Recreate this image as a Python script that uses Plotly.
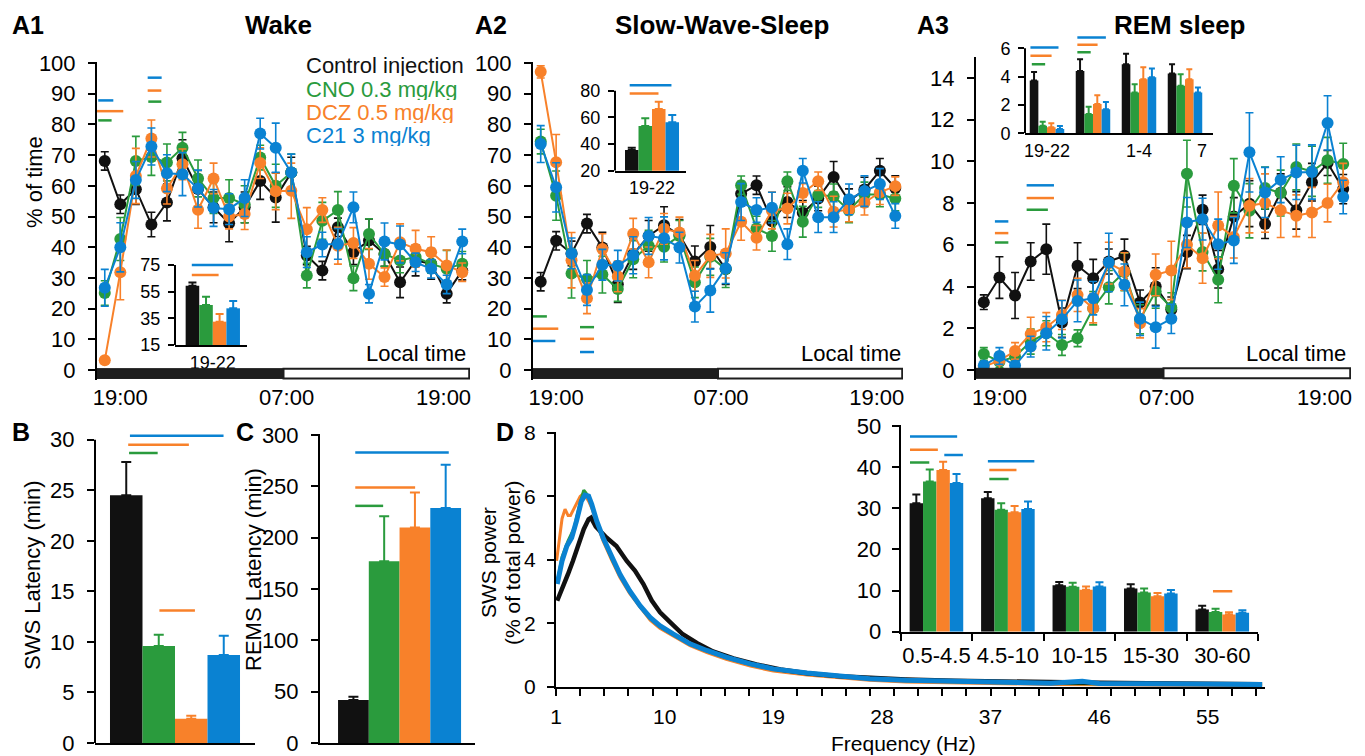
import plotly.graph_objects as go

W, H = 1365, 756
FONT = "Liberation Sans, Arial, Helvetica, sans-serif"
NARROW = "Liberation Sans Narrow, Arial Narrow, Liberation Sans, Arial, sans-serif"

# ---------------- data ----------------
SERIES = ["Control injection", "CNO 0.3 mg/kg", "DCZ 0.5 mg/kg", "C21 3 mg/kg"]
COLORS = ["#111111", "#2A9B3D", "#F8812A", "#0A82D2"]

HOURS = [0.5, 1.5, 2.5, 3.5, 4.5, 5.5, 6.5, 7.5, 8.5, 9.5, 10.5, 11.5,
         12.5, 13.5, 14.5, 15.5, 16.5, 17.5, 18.5, 19.5, 20.5, 21.5, 22.5, 23.5]
TIME_TICKS = [1.5, 12.2, 22.3]
TIME_LABELS = ["19:00", "07:00", "19:00"]
LIGHT_DARK = [(0, 12, "dark"), (12, 24, "light")]

wake_ctrl = [68.1, 54.0, 58.9, 47.4, 54.6, 69.0, 59.0, 53.0, 47.8, 53.0, 61.6, 56.2, 64.3, 37.3, 32.4, 46.5, 38.4, 42.2, 37.8, 28.6, 35.7, 34.6, 24.9, 32.4]
wake_cno = [25.1, 42.7, 68.1, 69.4, 67.6, 72.4, 62.4, 56.0, 56.0, 54.0, 69.2, 60.0, 64.3, 30.8, 48.6, 52.1, 29.9, 44.3, 37.8, 35.7, 36.8, 34.6, 33.0, 34.6]
wake_dcz = [3.2, 31.9, 63.2, 75.4, 59.1, 67.0, 52.2, 62.4, 50.0, 50.8, 67.4, 58.2, 58.4, 45.9, 52.1, 40.5, 41.4, 34.6, 30.3, 41.6, 39.5, 38.4, 34.1, 31.9]
wake_c21 = [26.8, 40.0, 61.9, 72.8, 64.1, 63.8, 59.1, 52.8, 52.4, 56.0, 77.0, 72.4, 64.3, 38.4, 40.9, 41.1, 53.0, 24.9, 41.9, 40.9, 35.1, 33.0, 27.9, 41.9]
wake_ctrl_err = [3, 3, 5, 4, 6, 6, 6, 5, 6, 5, 6, 8, 5, 3, 3, 3, 4, 7, 4, 5, 5, 5, 3, 3]
wake_cno_err = [4, 7, 8, 6, 6, 5, 6, 5, 6, 6, 4, 7, 6, 4, 6, 6, 4, 5, 4, 4, 3, 3, 6, 4]
wake_dcz_err = [1, 9, 9, 6, 5, 5, 6, 5, 4, 5, 5, 6, 9, 7, 4, 6, 5, 5, 3, 6, 6, 5, 5, 3]
wake_c21_err = [6, 8, 6, 6, 6, 7, 6, 6, 5, 6, 5, 8, 6, 5, 4, 5, 5, 3, 6, 6, 3, 3, 3, 4]

sws_ctrl = [28.8, 42.1, 38.0, 47.7, 39.9, 28.0, 37.8, 43.7, 47.2, 44.0, 35.4, 40.1, 32.9, 57.4, 60.2, 48.5, 54.7, 51.2, 55.9, 62.9, 55.0, 58.8, 64.9, 59.3]
sws_cno = [74.4, 56.8, 31.5, 29.7, 31.1, 26.4, 36.1, 40.5, 40.2, 43.7, 28.6, 36.9, 32.9, 60.2, 46.1, 43.7, 61.5, 48.3, 57.0, 56.6, 52.0, 57.2, 57.2, 55.9]
sws_dcz = [97.1, 67.7, 35.8, 23.4, 39.4, 30.5, 44.4, 35.1, 46.0, 44.8, 30.7, 37.2, 38.0, 48.3, 43.1, 52.0, 52.6, 57.7, 61.5, 51.6, 52.3, 54.5, 57.9, 59.9]
sws_c21 = [73.6, 59.5, 38.0, 26.1, 34.3, 34.0, 37.4, 43.7, 42.9, 39.9, 20.7, 25.9, 33.2, 54.7, 52.1, 52.9, 41.0, 64.9, 49.8, 49.8, 55.6, 58.3, 60.6, 50.2]
sws_ctrl_err = [3, 3, 4, 3, 5, 6, 5, 5, 6, 5, 5, 7, 5, 4, 3, 4, 5, 4, 4, 5, 4, 4, 4, 4]
sws_cno_err = [4, 8, 8, 6, 6, 4, 6, 5, 5, 5, 5, 6, 6, 3, 4, 5, 3, 5, 4, 4, 4, 4, 4, 4]
sws_dcz_err = [2, 9, 9, 5, 5, 5, 5, 5, 5, 5, 5, 7, 8, 6, 4, 6, 5, 3, 3, 5, 4, 4, 4, 3]
sws_c21_err = [6, 8, 5, 5, 5, 5, 6, 6, 7, 5, 5, 7, 5, 6, 4, 5, 5, 4, 5, 5, 5, 5, 5, 4]

rem_ctrl = [3.25, 4.43, 3.57, 5.2, 5.79, 2.27, 5.0, 4.4, 5.2, 5.47, 3.23, 4.0, 2.9, 5.65, 7.68, 4.83, 7.36, 7.97, 7.0, 8.5, 7.65, 9.0, 9.92, 8.67]
rem_cno = [0.77, 0.4, 0.64, 1.36, 1.76, 1.2, 1.52, 2.96, 3.97, 4.7, 2.43, 3.76, 3.0, 9.41, 5.65, 4.32, 8.83, 7.63, 8.72, 8.48, 9.73, 9.52, 10.05, 9.87]
rem_dcz = [0.16, 0.45, 0.91, 1.73, 2.05, 2.64, 3.6, 2.96, 5.12, 4.72, 2.24, 4.56, 4.77, 6.0, 5.36, 6.93, 6.37, 7.87, 8.0, 7.65, 7.39, 7.55, 8.0, 9.0]
rem_c21 = [0.21, 0.67, 0.21, 1.12, 1.76, 2.43, 3.31, 3.44, 5.15, 4.08, 2.45, 2.05, 2.45, 7.07, 7.23, 6.03, 6.21, 10.43, 8.51, 9.12, 9.47, 9.49, 11.84, 8.29]
rem_ctrl_err = [0.35, 1.0, 1.1, 0.9, 1.2, 0.7, 1.1, 0.9, 0.6, 0.8, 0.6, 0.9, 0.6, 0.8, 0.7, 0.9, 0.9, 1.1, 0.7, 0.9, 0.9, 0.9, 0.6, 0.7]
rem_cno_err = [0.3, 0.3, 0.3, 0.6, 0.6, 0.5, 0.4, 0.8, 0.8, 0.9, 0.7, 0.8, 0.7, 1.6, 0.9, 1.1, 1.3, 1.3, 1.0, 1.1, 1.1, 1.2, 1.1, 1.0]
rem_dcz_err = [0.2, 0.4, 0.4, 0.8, 0.7, 0.7, 0.8, 0.7, 1.0, 0.9, 0.7, 1.0, 1.4, 1.1, 1.2, 1.6, 1.0, 1.3, 1.4, 1.3, 1.0, 1.2, 0.9, 0.9]
rem_c21_err = [0.2, 0.4, 0.2, 0.5, 0.8, 0.9, 1.0, 0.8, 1.4, 1.0, 0.8, 1.0, 0.7, 1.2, 1.0, 1.2, 1.1, 1.9, 1.2, 1.1, 1.3, 1.3, 1.3, 0.8]

# insets (19-22 h)
wake_inset = [59.5, 45.0, 32.5, 42.5]
wake_inset_err = [2.3, 6.2, 5.8, 5.5]
sws_inset = [35.5, 53.5, 66.3, 56.3]
sws_inset_err = [1.8, 5.8, 5.5, 5.5]
REM_GROUPS = [0, 1, 2, 3]
REM_GROUP_TICKS = [0, 2, 3.37]
REM_GROUP_LABELS = ["19-22", "1-4", "7"]
rem_inset_ctrl = [3.72, 4.40, 4.87, 4.21]
rem_inset_cno = [0.54, 1.36, 2.87, 3.36]
rem_inset_dcz = [0.42, 2.07, 3.81, 3.81]
rem_inset_c21 = [0.31, 1.69, 3.95, 2.87]
rem_inset_ctrl_err = [0.60, 0.82, 0.73, 0.66]
rem_inset_cno_err = [0.28, 0.52, 0.59, 0.80]
rem_inset_dcz_err = [0.28, 0.61, 0.85, 0.71]
rem_inset_c21_err = [0.21, 0.52, 0.61, 0.35]

# B, C latencies
sws_latency = [24.5, 9.6, 2.4, 8.7]
sws_latency_err = [3.3, 1.1, 0.3, 1.9]
rems_latency = [42, 177, 210, 229]
rems_latency_err = [3, 44, 34, 42]

# D spectra
d_ctrl_f = [1.1, 1.6, 2.0, 2.4, 2.85, 3.3, 3.7, 3.9, 4.3, 5.2, 6.0, 6.86, 7.55, 8.24, 8.93, 9.62, 10.45, 11.5, 12.7, 14.0, 15.7, 17.6, 19.6, 21.8, 24.5, 27.0, 30, 34, 38, 42, 46, 50, 55, 59.5]
d_ctrl_p = [2.72, 3.14, 3.56, 3.97, 4.5, 4.97, 5.28, 5.33, 5.05, 4.7, 4.44, 3.97, 3.66, 3.24, 2.72, 2.35, 2.04, 1.66, 1.38, 1.12, 0.9, 0.71, 0.55, 0.43, 0.34, 0.28, 0.24, 0.2, 0.17, 0.15, 0.13, 0.12, 0.1, 0.09]
d_cno_f = [1.1, 1.5, 2.0, 2.5, 3.0, 3.3, 3.7, 4.0, 4.4, 4.9, 5.6, 6.3, 7.1, 8.0, 8.8, 9.6, 10.7, 12.1, 13.5, 15.1, 17.1, 19.0, 21.8, 24.5, 27.0, 30, 34, 38, 42, 46, 50, 55, 59.5]
d_cno_p = [3.3, 4.1, 4.6, 5.0, 5.8, 6.2, 6.0, 5.7, 5.2, 4.68, 4.05, 3.52, 3.0, 2.52, 2.15, 1.9, 1.65, 1.34, 1.13, 0.92, 0.71, 0.55, 0.42, 0.32, 0.25, 0.2, 0.16, 0.13, 0.11, 0.1, 0.09, 0.08, 0.07]
d_dcz_f = [1.05, 1.3, 1.5, 1.75, 2.0, 2.2, 2.6, 3.0, 3.3, 3.7, 4.0, 4.4, 4.9, 5.6, 6.3, 7.1, 8.0, 8.8, 9.6, 10.7, 12.1, 13.5, 15.1, 17.1, 19.0, 21.8, 24.5, 27.0, 30, 34, 38, 42, 46, 50, 55, 59.5]
d_dcz_p = [3.97, 4.8, 5.3, 5.6, 5.4, 5.4, 5.7, 6.0, 6.1, 5.85, 5.6, 5.15, 4.6, 4.0, 3.45, 2.95, 2.48, 2.1, 1.85, 1.6, 1.3, 1.08, 0.87, 0.66, 0.5, 0.38, 0.28, 0.21, 0.16, 0.13, 0.1, 0.08, 0.07, 0.06, 0.05, 0.04]
d_c21_f = [1.1, 1.5, 1.9, 2.3, 2.7, 3.1, 3.4, 3.7, 3.96, 4.37, 4.9, 5.6, 6.3, 7.1, 7.96, 8.8, 9.6, 10.7, 12.1, 13.5, 15.1, 17.1, 19.0, 21.8, 24.5, 27.0, 30, 34, 38, 42, 44.6, 46, 50, 55, 59.5]
d_c21_p = [3.24, 3.97, 4.44, 4.7, 5.23, 5.85, 6.04, 6.01, 5.75, 5.23, 4.7, 4.08, 3.55, 3.03, 2.56, 2.19, 1.93, 1.67, 1.36, 1.15, 0.94, 0.73, 0.57, 0.44, 0.34, 0.26, 0.21, 0.17, 0.14, 0.12, 0.18, 0.11, 0.1, 0.09, 0.08]
FREQ_TICKS = [1, 10, 19, 28, 37, 46, 55]

BANDS = ["0.5-4.5", "4.5-10", "10-15", "15-30", "30-60"]
band_ctrl = [31.2, 32.4, 11.3, 10.5, 5.4]
band_cno = [36.5, 29.6, 10.9, 9.5, 4.8]
band_dcz = [39.3, 29.0, 10.2, 8.6, 4.2]
band_c21 = [36.1, 29.8, 11.0, 9.3, 4.6]
band_ctrl_err = [2.1, 1.5, 0.8, 1.0, 0.9]
band_cno_err = [2.9, 1.6, 1.0, 1.0, 0.8]
band_dcz_err = [2.0, 1.5, 0.8, 0.8, 0.5]
band_c21_err = [2.2, 1.8, 1.0, 0.8, 0.6]

# significance bars: (series index, x0, x1, y)
SIG_A1 = [(3, 0.08, 1.05, 87.8), (2, 0.0, 1.69, 84.3), (1, 0.08, 0.94, 81.3),
          (3, 3.26, 4.16, 95.2), (2, 3.26, 4.14, 91.0), (1, 3.3, 4.14, 87.4)]
SIG_A2 = [(1, 0.0, 0.9, 17.5), (2, 0.0, 1.64, 13.5), (3, 0.0, 1.45, 9.5),
          (1, 3.05, 3.96, 14.0), (2, 3.05, 3.96, 10.2), (3, 3.05, 3.96, 5.9)]
SIG_A3 = [(3, 1.21, 2.07, 7.12), (2, 1.21, 2.07, 6.56), (1, 1.21, 2.07, 6.11),
          (3, 3.24, 4.99, 8.85), (2, 3.24, 4.99, 8.24), (1, 3.24, 4.6, 7.68)]
SIG_A1_IN = [(3, -0.29, 0.28, 75.0), (2, -0.29, 0.08, 67.5)]
SIG_A2_IN = [(3, -0.31, 0.27, 84.2), (2, -0.31, 0.09, 78.0)]
SIG_A3_IN = [(3, -0.36, 0.25, 6.05), (2, -0.36, 0.10, 5.46), (1, -0.33, -0.04, 4.87),
             (3, 0.66, 1.28, 6.75), (2, 0.66, 1.10, 6.24), (1, 0.66, 0.95, 5.72)]
SIG_B = [(3, -0.26, 0.28, 30.4), (2, -0.27, 0.08, 29.5), (1, -0.265, -0.10, 28.7),
         (2, -0.09, 0.115, 13.1)]
SIG_C = [(3, -0.27, 0.30, 283), (2, -0.27, 0.095, 249), (1, -0.27, -0.10, 231)]
SIG_D = [(3, -0.37, 0.29, 47.4), (2, -0.37, 0.02, 44.2), (1, -0.37, -0.10, 41.1),
         (3, 0.11, 0.37, 42.9), (3, 0.72, 1.37, 41.4), (2, 0.74, 1.12, 39.3),
         (1, 0.74, 1.01, 37.1), (2, 3.87, 4.14, 9.8)]

# ---------------- figure ----------------
fig = go.Figure()


def ax_names(n):
    return ("x" if n == 1 else f"x{n}", "y" if n == 1 else f"y{n}",
            "xaxis" if n == 1 else f"xaxis{n}", "yaxis" if n == 1 else f"yaxis{n}")


def base_axis(size, family=FONT):
    return dict(showgrid=False, zeroline=False, showline=True, linecolor="black",
                linewidth=2, ticks="outside", ticklen=7, tickwidth=2, tickcolor="black",
                tickfont=dict(family=family, size=size, color="black"), fixedrange=True,
                automargin=False, ticklabeloverflow="allow")


def add_axes(n, xpx, ypx, xr, yr, xkw=None, ykw=None, size=22, family=FONT):
    xid, yid, xname, yname = ax_names(n)
    xa = base_axis(size, family)
    xa.update(domain=[xpx[0] / W, xpx[1] / W], range=xr, anchor=yid)
    xa.update(xkw or {})
    ya = base_axis(size, family)
    ya.update(domain=[1 - ypx[1] / H, 1 - ypx[0] / H], range=yr, anchor=xid)
    ya.update(ykw or {})
    fig.update_layout(**{xname: xa, yname: ya})


def yline(n, lo, hi):
    xid, yid, _, _ = ax_names(n)
    fig.add_shape(type="line", xref=f"{xid} domain", yref=yid, x0=0, x1=0, y0=lo, y1=hi,
                  line=dict(color="black", width=2))


def sig(n, items, width=2.5):
    xid, yid, _, _ = ax_names(n)
    for s, x0, x1, y in items:
        fig.add_shape(type="line", xref=xid, yref=yid, x0=x0, x1=x1, y0=y, y1=y,
                      line=dict(color=COLORS[s], width=width))


def time_series(n, data, errs):
    xid, yid, _, _ = ax_names(n)
    for i in range(4):
        fig.add_trace(go.Scatter(
            x=HOURS, y=data[i], mode="lines+markers", xaxis=xid, yaxis=yid,
            line=dict(color=COLORS[i], width=2), marker=dict(color=COLORS[i], size=12),
            error_y=dict(type="data", array=errs[i], color=COLORS[i], thickness=1.6, width=4),
            cliponaxis=False, showlegend=False, name=SERIES[i]))


def bars(n, cats, data, errs, ew=4):
    xid, yid, _, _ = ax_names(n)
    for i in range(4):
        fig.add_trace(go.Bar(
            x=cats, y=data[i], xaxis=xid, yaxis=yid, marker=dict(color=COLORS[i], line=dict(width=0)),
            error_y=dict(type="data", array=errs[i], arrayminus=[0] * len(cats), symmetric=False,
                         color=COLORS[i], thickness=2, width=ew),
            showlegend=False, name=SERIES[i]))


def light_dark(n, y0, y1):
    xid, yid, _, _ = ax_names(n)
    for a, b, kind in LIGHT_DARK:
        if kind == "dark":
            fig.add_shape(type="rect", xref=xid, yref=yid, x0=a, x1=b, y0=y0, y1=y1,
                          fillcolor="#1e1e1e", line=dict(color="#1e1e1e", width=1))
        else:
            fig.add_shape(type="rect", xref=xid, yref=yid, x0=a, x1=b - 0.05, y0=y0, y1=y1,
                          fillcolor="white", line=dict(color="#1e1e1e", width=2))


time_x = dict(showline=False, ticks="", tickvals=TIME_TICKS, ticktext=TIME_LABELS, ticklabelstandoff=2)
yk = dict(ticklabelstandoff=8)

# A1
add_axes(1, (97, 470), (62, 380), [0, 24], [-3.2, 100.3], time_x, dict(yk, dtick=10, tick0=0))
time_series(1, [wake_ctrl, wake_cno, wake_dcz, wake_c21],
            [wake_ctrl_err, wake_cno_err, wake_dcz_err, wake_c21_err])
light_dark(1, -2.7, 0.5)
sig(1, SIG_A1)
# A1 inset
add_axes(2, (175, 247), (261, 345), [-0.522, 0.472], [15, 78],
         dict(tickvals=[0], ticktext=["19-22"], ticks=""),
         dict(tickvals=[15, 35, 55, 75], showline=False, ticklen=6, ticklabelstandoff=4), size=18)
bars(2, [0], [[v] for v in wake_inset], [[e] for e in wake_inset_err])
yline(2, 15, 75)
sig(2, SIG_A1_IN)

# A2
add_axes(3, (533, 903), (62, 380), [0, 24], [-3.2, 100.3], time_x, dict(yk, dtick=10, tick0=0))
time_series(3, [sws_ctrl, sws_cno, sws_dcz, sws_c21],
            [sws_ctrl_err, sws_cno_err, sws_dcz_err, sws_c21_err])
light_dark(3, -2.7, 0.5)
sig(3, SIG_A2)
# A2 inset
add_axes(4, (615, 686), (81.4, 170.7), [-0.514, 0.472], [20, 87],
         dict(tickvals=[0], ticktext=["19-22"], ticks=""),
         dict(tickvals=[20, 40, 60, 80], showline=False, ticklen=6, ticklabelstandoff=4), size=18)
bars(4, [0], [[v] for v in sws_inset], [[e] for e in sws_inset_err])
yline(4, 20, 80)
sig(4, SIG_A2_IN)

# A3
add_axes(5, (976, 1351), (57, 380), [0, 24], [-0.48, 15], time_x, dict(yk, dtick=2, tick0=0))
time_series(5, [rem_ctrl, rem_cno, rem_dcz, rem_c21],
            [rem_ctrl_err, rem_cno_err, rem_dcz_err, rem_c21_err])
light_dark(5, -0.4, 0.08)
sig(5, SIG_A3)
# A3 inset
add_axes(6, (1025, 1213), (34, 133.3), [-0.478, 3.609], [0, 7],
         dict(tickvals=REM_GROUP_TICKS, ticktext=REM_GROUP_LABELS, ticks=""),
         dict(tickvals=[0, 2, 4, 6], showline=False, ticklen=6, ticklabelstandoff=4), size=18)
bars(6, REM_GROUPS, [rem_inset_ctrl, rem_inset_cno, rem_inset_dcz, rem_inset_c21],
     [rem_inset_ctrl_err, rem_inset_cno_err, rem_inset_dcz_err, rem_inset_c21_err], ew=3)
yline(6, 0, 6)
sig(6, SIG_A3_IN)

# B
add_axes(7, (95, 255), (424.6, 743), [-0.4615, 0.4615], [0, 31.5],
         dict(ticks="", showticklabels=False),
         dict(yk, tickvals=[0, 5, 10, 15, 20, 25, 30], showline=False), size=22)
bars(7, [0], [[v] for v in sws_latency], [[e] for e in sws_latency_err], ew=5)
yline(7, 0, 30)
sig(7, SIG_B)

# C
add_axes(8, (320, 475), (434, 743), [-0.485, 0.46], [0, 301],
         dict(ticks="", showticklabels=False),
         dict(yk, dtick=50, tick0=0), size=22)
bars(8, [0], [[v] for v in rems_latency], [[e] for e in rems_latency_err], ew=5)
sig(8, SIG_C)

# D main
add_axes(9, (556, 1265), (432, 687), [1, 59.74], [0, 8.03],
         dict(tickvals=FREQ_TICKS, ticks="", ticklabelstandoff=10,
              minor=dict(tick0=1, dtick=2, ticks="outside", ticklen=7, tickwidth=2, tickcolor="black")),
         dict(dtick=2, tick0=0, ticklabelstandoff=7), size=21, family=NARROW)
d_sets = [(d_dcz_f, d_dcz_p, 2, 3), (d_cno_f, d_cno_p, 1, 3), (d_ctrl_f, d_ctrl_p, 0, 4.5),
          (d_c21_f, d_c21_p, 3, 5)]
for f, p, i, w in d_sets:
    fig.add_trace(go.Scatter(x=f, y=p, mode="lines", xaxis="x9", yaxis="y9",
                             line=dict(color=COLORS[i], width=w), showlegend=False, name=SERIES[i]))

# D inset
add_axes(10, (900.7, 1258), (425, 631.7), [-0.5, 4.5], [0, 50.2],
         dict(tickvals=[0, 1, 2, 3, 4], ticktext=BANDS, ticks="", ticklabelstandoff=3,
              minor=dict(tickvals=[-0.5, 0.5, 1.5, 2.5, 3.5, 4.5], ticks="outside", ticklen=7,
                         tickwidth=2, tickcolor="black")),
         dict(dtick=10, tick0=0, ticklabelstandoff=6), size=22, family=NARROW)
bars(10, [0, 1, 2, 3, 4], [band_ctrl, band_cno, band_dcz, band_c21],
     [band_ctrl_err, band_cno_err, band_dcz_err, band_c21_err])
sig(10, SIG_D)


# ---------------- text ----------------
def txt(x, y, s, size=22, color="black", bold=False, xanchor="center", angle=0, family=FONT, h=None):
    kw = {}
    if h:
        kw["height"] = h
    fig.add_annotation(x=x / W, y=1 - y / H, xref="paper", yref="paper",
                       text=f"<b>{s}</b>" if bold else s, showarrow=False,
                       xanchor=xanchor, yanchor="middle", textangle=angle,
                       font=dict(size=size, color=color, family=family), **kw)


txt(10, 25, "A1", 25, bold=True, xanchor="left")
txt(278, 25, "Wake", 26, bold=True)
txt(473, 25, "A2", 25, bold=True, xanchor="left")
txt(722, 25, "Slow-Wave-Sleep", 26, bold=True)
txt(915, 25, "A3", 25, bold=True, xanchor="left")
txt(1180, 25, "REM sleep", 26, bold=True)
txt(10, 432, "B", 25, bold=True, xanchor="left")
txt(234, 432, "C", 25, bold=True, xanchor="left")
txt(494, 432, "D", 25, bold=True, xanchor="left")

for i, (s, y) in enumerate(zip(SERIES, [65, 88.5, 112, 135.5])):
    txt(304, y, s, 22, color=COLORS[i], xanchor="left", h=22)

for xr in (468, 903, 1348):
    txt(xr, 353, "Local time", 22, xanchor="right")

txt(35, 182, "% of time", 22, angle=-90)
txt(32, 575, "SWS Latency (min)", 22, angle=-90)
txt(253, 570, "REMS Latency (min)", 22, angle=-90)
txt(488, 563, "SWS power", 21, angle=-90, family=NARROW)
txt(512, 563, "(% of total power)", 21, angle=-90, family=NARROW)
txt(903, 743, "Frequency (Hz)", 21, family=NARROW)

fig.update_layout(width=W, height=H, margin=dict(l=0, r=0, t=0, b=0, pad=0, autoexpand=False),
                  paper_bgcolor="white", plot_bgcolor="rgba(0,0,0,0)",
                  barmode="group", bargap=0.25, bargroupgap=0,
                  font=dict(family=FONT, color="black"), showlegend=False)

fig.write_html("out.html",
               post_script="document.body.style.margin='0px';document.body.style.overflow='hidden';")
